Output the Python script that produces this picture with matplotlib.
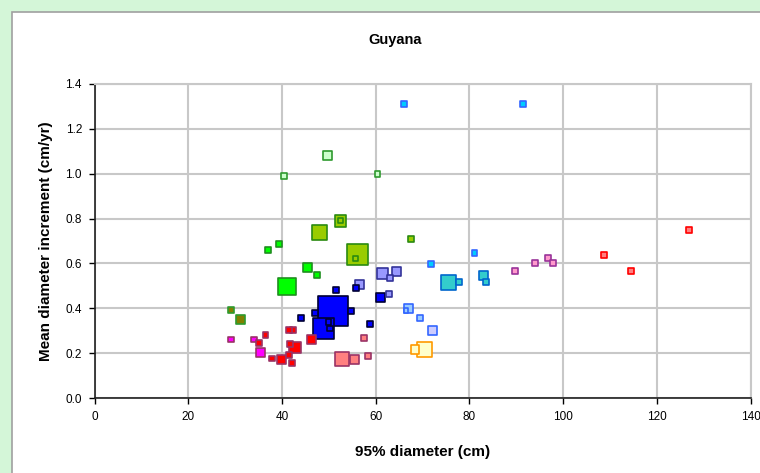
import matplotlib.pyplot as plt
import matplotlib.patches as mpatches
import numpy as np

plt.rcParams['font.family'] = ['Liberation Sans', 'DejaVu Sans']

# plot points: 95% diameter (cm), mean diameter increment (cm/yr), weight, group
diam = [49.8, 40.4, 60.4, 39.4, 37.1, 47.5, 45.5, 41.1,
        52.5, 52.5, 48.1, 67.5, 56.1, 55.7,
        29.1, 31.1,
        50.8, 48.8, 61.1, 51.5, 55.8, 47.1, 54.7, 44.1, 49.9, 50.3, 58.8,
        61.5, 64.5, 63.1, 56.5, 62.8,
        72.1,
        67.0, 66.5, 69.5,
        66.1, 91.5, 81.1, 71.8,
        75.5, 77.8, 83.1, 83.5,
        70.4, 68.4,
        46.4, 42.8, 41.7, 41.5, 42.4, 41.5, 39.9, 42.2, 35.1, 36.5, 37.8,
        29.1, 34.1, 35.5,
        52.8, 55.4, 57.5, 58.4,
        89.8, 94.1, 96.8, 97.8,
        108.8, 114.5, 126.8]
incr = [1.08, 0.99, 1.00, 0.687, 0.659, 0.547, 0.583, 0.498,
        0.79, 0.79, 0.737, 0.708, 0.638, 0.623,
        0.392, 0.352,
        0.386, 0.309, 0.449, 0.483, 0.49, 0.379, 0.386, 0.358, 0.339, 0.309, 0.33,
        0.556, 0.562, 0.534, 0.505, 0.464,
        0.303,
        0.398, 0.39, 0.358,
        1.31, 1.31, 0.645, 0.596,
        0.513, 0.519, 0.547, 0.519,
        0.218, 0.218,
        0.261, 0.225, 0.24, 0.303, 0.303, 0.192, 0.17, 0.155, 0.246, 0.28, 0.176,
        0.261, 0.261, 0.203,
        0.174, 0.17, 0.267, 0.189,
        0.568, 0.602, 0.625, 0.602,
        0.638, 0.568, 0.75]
weight = [17, 7, 7, 7, 7, 7, 16, 62,
          27, 5, 45, 7, 88, 5,
          7, 16,
          180, 88, 16, 7, 7, 7, 7, 7, 6, 6, 7,
          24, 16, 6, 16, 6,
          16,
          16, 4, 7,
          7, 7, 7, 7,
          45, 7, 16, 7,
          45, 16,
          16, 26, 7, 7, 7, 7, 16, 7, 7, 7, 7,
          7, 7, 16,
          43, 16, 7, 7,
          7, 7, 7, 7,
          7, 7, 7]
group = ['palegreen', 'palegreen', 'palegreen', 'green', 'green', 'green', 'green', 'green',
         'yellowgreen', 'yellowgreen', 'yellowgreen', 'yellowgreen', 'yellowgreen', 'yellowgreen',
         'olive', 'olive',
         'blue', 'blue', 'blue', 'blue', 'blue', 'blue', 'blue', 'blue', 'blue', 'blue', 'blue',
         'lavender', 'lavender', 'lavender', 'lavender', 'lavender',
         'palelavender',
         'lightblue', 'lightblue', 'lightblue',
         'sky', 'sky', 'sky', 'sky',
         'teal', 'teal', 'teal', 'teal',
         'paleyellow', 'paleyellow',
         'red', 'red', 'red', 'red', 'red', 'red', 'red', 'red', 'red', 'red', 'red',
         'magenta', 'magenta', 'magenta',
         'salmon', 'salmon', 'salmon', 'salmon',
         'pink', 'pink', 'pink', 'pink',
         'lightred', 'lightred', 'lightred']

# face / edge colours per group
styles = {
    'palegreen': ('#ccffcc', '#2e9a2e'),
    'green': ('#00ff00', '#1f8f1f'),
    'yellowgreen': ('#99cc00', '#2a8a10'),
    'olive': ('#808000', '#2e9a2e'),
    'blue': ('#0000ff', '#000033'),
    'lavender': ('#9999ff', '#333399'),
    'palelavender': ('#ccccff', '#3366ff'),
    'lightblue': ('#99ccff', '#3366ff'),
    'sky': ('#00ccff', '#3366ff'),
    'teal': ('#33cccc', '#0066cc'),
    'paleyellow': ('#ffffcc', '#ff9900'),
    'red': ('#ff0000', '#993366'),
    'magenta': ('#ff00ff', '#993366'),
    'salmon': ('#ff8080', '#993366'),
    'pink': ('#ff99cc', '#993399'),
    'lightred': ('#ff8080', '#ff0000'),
}

fig = plt.figure(figsize=(7.6, 4.73), dpi=100)
fig.patch.set_facecolor('#d4f6d8')
frame = mpatches.Rectangle((12 / 760, -0.01), 1.0, 1 - 12 / 473 + 0.01,
                           transform=fig.transFigure, facecolor='white',
                           edgecolor='#a0a0a0', linewidth=1.2, zorder=-10)
fig.add_artist(frame)

ax = fig.add_axes([94.5 / 760, 75 / 473, 656 / 760, 314 / 473])
ax.set_zorder(1)

order = np.argsort(weight)[::-1]
xs = np.array(diam)[order]
ys = np.array(incr)[order]
sizes = np.array(weight)[order] * 5 * 0.72 ** 2
faces = [styles[group[i]][0] for i in order]
edges = [styles[group[i]][1] for i in order]
ax.scatter(xs, ys, s=sizes, marker='s', c=faces, edgecolors=edges,
           linewidths=1.2, zorder=3, clip_on=False)

ax.set_xlim(0, 140)
ax.set_ylim(0, 1.4)
ax.set_xticks(np.arange(0, 141, 20))
ax.set_yticks(np.arange(0, 1.41, 0.2))
ax.set_yticklabels([f'{v:.1f}' for v in np.arange(0, 1.41, 0.2)])
ax.grid(True, color='#c8c8c8', linewidth=1.5)
ax.set_axisbelow(True)
for s in ['top', 'right']:
    ax.spines[s].set_color('#c8c8c8')
    ax.spines[s].set_linewidth(1.5)
for s in ['left', 'bottom']:
    ax.spines[s].set_color('#202020')
    ax.spines[s].set_linewidth(1.2)
ax.tick_params(direction='out', length=4, width=1, labelsize=8.5, pad=5)

ax.set_xlabel('95% diameter (cm)', fontsize=11, fontweight='bold', labelpad=16)
ax.set_ylabel('Mean diameter increment (cm/yr)', fontsize=11, fontweight='bold', labelpad=9)
fig.text(395 / 760, 1 - 40 / 473, 'Guyana', ha='center', va='center',
         fontsize=10.5, fontweight='bold')

plt.savefig('out.png', dpi=100, facecolor=fig.get_facecolor())
